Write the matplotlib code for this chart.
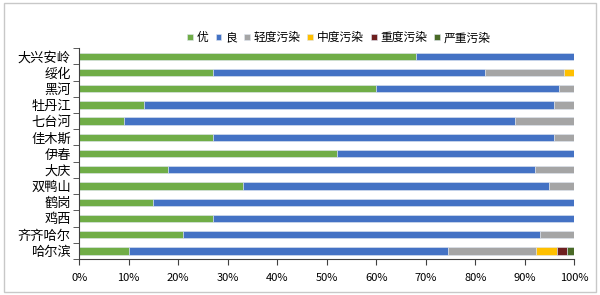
import numpy as np
import matplotlib.pyplot as plt
from matplotlib.ticker import PercentFormatter, FixedLocator

plt.rcParams['font.family'] = ['Noto Sans CJK SC', 'DejaVu Sans']

# data (percent of days), bottom to top
cities = ['哈尔滨', '齐齐哈尔', '鸡西', '鹤岗', '双鸭山', '大庆', '伊春',
          '佳木斯', '七台河', '牡丹江', '黑河', '绥化', '大兴安岭']
you = [10, 21, 27, 15, 33, 18, 52, 27, 9, 13, 60, 27, 68]
liang = [64.5, 72, 73, 85, 62, 74, 48, 69, 79, 83, 37, 55, 32]
qingdu = [17.8, 7, 0, 0, 5, 8, 0, 4, 12, 4, 3, 16, 0]
zhongdu = [4.3, 0, 0, 0, 0, 0, 0, 0, 0, 0, 0, 2, 0]
zhongdu2 = [2.0, 0, 0, 0, 0, 0, 0, 0, 0, 0, 0, 0, 0]
yanzhong = [1.4, 0, 0, 0, 0, 0, 0, 0, 0, 0, 0, 0, 0]

series = [('优', you, '#70AD47'), ('良', liang, '#4472C4'),
          ('轻度污染', qingdu, '#A5A5A5'), ('中度污染', zhongdu, '#FFC000'),
          ('重度污染', zhongdu2, '#6E1F1F'), ('严重污染', yanzhong, '#4A6A26')]

fig = plt.figure(figsize=(6, 2.95), dpi=100)
ax = fig.add_axes([0.132, 0.122, 0.825, 0.715])

y = np.arange(len(cities))
left = np.zeros(len(cities))
for name, vals, col in series:
    vals = np.array(vals, dtype=float)
    ax.barh(y, vals, left=left, height=0.45, color=col, label=name,
            edgecolor='#dfe6f0', linewidth=0.4)
    left += vals

ax.set_xlim(0, 100)
ax.set_ylim(-0.5, len(cities) - 0.5)
ax.set_xticks(np.arange(0, 101, 10))
ax.xaxis.set_major_formatter(PercentFormatter(decimals=0))
ax.set_yticks(y)
ax.set_yticklabels(cities, fontsize=9.5)
ax.tick_params(axis='y', length=0, pad=6)
ax.yaxis.set_minor_locator(FixedLocator(np.arange(-0.5, len(cities), 1)))
ax.tick_params(axis='y', which='minor', length=4, color='#404040')
ax.tick_params(axis='x', labelsize=8, length=4, color='#404040', pad=6)

for s in ['top', 'right']:
    ax.spines[s].set_visible(False)
ax.spines['left'].set_color('#404040')
ax.spines['bottom'].set_color('#404040')

ax.legend(loc='lower center', bbox_to_anchor=(0.525, 0.99), ncol=6, frameon=False,
          fontsize=8.5, handlelength=0.5, handleheight=0.5, handletextpad=0.3,
          columnspacing=0.6, borderaxespad=0.1)

fig.patches.append(plt.Rectangle((0.006, 0.01), 0.988, 0.98, transform=fig.transFigure,
                                 fill=False, edgecolor='#c8c8c8', linewidth=1))

fig.savefig('out.png', dpi=100)
